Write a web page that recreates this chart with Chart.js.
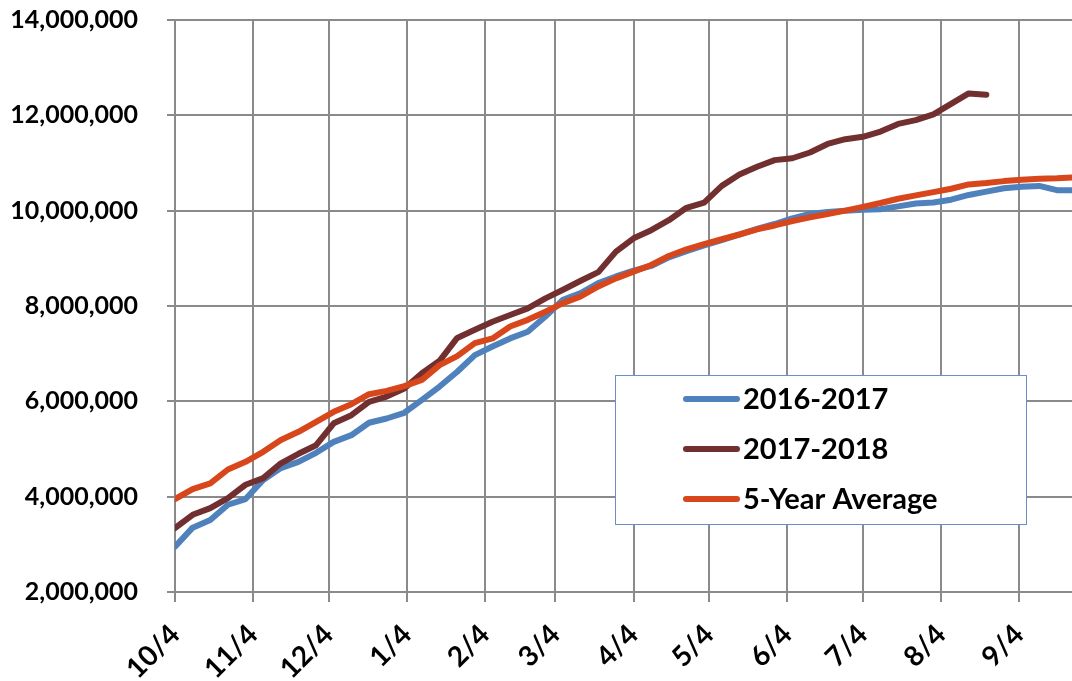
<!DOCTYPE html>
<html>
<head>
<meta charset="utf-8">
<script src="https://cdn.jsdelivr.net/npm/chart.js@4.4.0/dist/chart.umd.min.js"></script>
<style>
  html, body { margin: 0; padding: 0; background: #fff; }
  #wrap { width: 1072px; height: 681px; }
</style>
</head>
<body>
<div id="wrap"><canvas id="chart" width="1072" height="681"></canvas></div>
<script>
// days since 10/4 for each weekly reading
const weekDays = [0, 7, 14, 21, 28, 35, 42, 49, 56, 63, 70, 77, 84, 91, 98, 105, 112, 119, 126, 133,
  140, 147, 154, 161, 168, 175, 182, 189, 196, 203, 210, 217, 224, 231, 238, 245, 252, 259, 266, 273,
  280, 287, 294, 301, 308, 315, 322, 329, 336, 343, 350, 357];

// month ticks on the x axis
const monthDays = [0, 31, 61, 92, 123, 151, 182, 212, 243, 273, 304, 335];
const monthLabels = ['10/4', '11/4', '12/4', '1/4', '2/4', '3/4', '4/4', '5/4', '6/4', '7/4', '8/4', '9/4'];

// values in millions
const season1617 = [2.95, 3.35, 3.51, 3.83, 3.95, 4.35, 4.60, 4.73, 4.92, 5.15, 5.29, 5.55, 5.64, 5.76,
  6.03, 6.31, 6.62, 6.97, 7.15, 7.32, 7.46, 7.78, 8.13, 8.27, 8.48, 8.62, 8.74, 8.84, 9.02, 9.15,
  9.27, 9.38, 9.50, 9.62, 9.72, 9.84, 9.93, 9.97, 10.00, 10.02, 10.03, 10.09, 10.15, 10.17, 10.23,
  10.33, 10.40, 10.47, 10.50, 10.52, 10.43, 10.43];
const season1718 = [3.34, 3.62, 3.76, 3.97, 4.25, 4.39, 4.70, 4.90, 5.08, 5.54, 5.71, 5.99, 6.10, 6.27,
  6.59, 6.85, 7.33, 7.50, 7.67, 7.81, 7.95, 8.16, 8.34, 8.53, 8.71, 9.14, 9.42, 9.59, 9.80, 10.06,
  10.17, 10.52, 10.76, 10.92, 11.06, 11.10, 11.22, 11.40, 11.50, 11.55, 11.66, 11.82, 11.90, 12.02,
  12.24, 12.46, 12.43];
const fiveYearAvg = [3.95, 4.16, 4.28, 4.57, 4.73, 4.94, 5.19, 5.36, 5.57, 5.78, 5.94, 6.15, 6.22, 6.32,
  6.45, 6.76, 6.95, 7.22, 7.32, 7.57, 7.71, 7.88, 8.06, 8.20, 8.41, 8.58, 8.72, 8.86, 9.05, 9.19,
  9.30, 9.40, 9.50, 9.61, 9.69, 9.78, 9.86, 9.93, 10.00, 10.08, 10.16, 10.25, 10.32, 10.39, 10.46,
  10.55, 10.58, 10.62, 10.65, 10.67, 10.68, 10.70];

const yTicks = [2000000, 4000000, 6000000, 8000000, 10000000, 12000000, 14000000];

const gridColor = '#8a8a8a';
const fontFamily = 'Lato, "Open Sans", sans-serif';

const toPoints = (vals) => vals.map((v, i) => ({ x: weekDays[i], y: v * 1000000 }));

// legend drawn as a box inside the plot, like the original
const boxLegend = {
  id: 'boxLegend',
  afterDraw(chart) {
    const ctx = chart.ctx;
    ctx.save();
    ctx.fillStyle = '#fff';
    ctx.fillRect(615, 375, 412, 150);
    ctx.strokeStyle = '#6a8fc8';
    ctx.lineWidth = 1;
    ctx.strokeRect(615.5, 375.5, 411, 149);
    ctx.font = 'bold 29px ' + fontFamily;
    ctx.textBaseline = 'middle';
    ctx.textAlign = 'left';
    chart.data.datasets.forEach((ds, i) => {
      const y = 399 + i * 50;
      ctx.strokeStyle = ds.borderColor;
      ctx.lineWidth = 6;
      ctx.lineCap = 'round';
      ctx.beginPath();
      ctx.moveTo(686, y);
      ctx.lineTo(737, y);
      ctx.stroke();
      ctx.fillStyle = '#000';
      ctx.fillText(ds.label, 743, y + 1);
    });
    ctx.restore();
  }
};

const lineStyle = { borderWidth: 6, pointRadius: 0, tension: 0, borderJoinStyle: 'round', borderCapStyle: 'round', fill: false };

new Chart(document.getElementById('chart'), {
  type: 'line',
  data: {
    datasets: [
      { label: '2016-2017', data: toPoints(season1617), borderColor: '#4f81bd', order: 3, ...lineStyle },
      { label: '2017-2018', data: toPoints(season1718), borderColor: '#722f2f', order: 2, ...lineStyle },
      { label: '5-Year Average', data: toPoints(fiveYearAvg), borderColor: '#d8461b', order: 1, ...lineStyle }
    ]
  },
  options: {
    responsive: false,
    animation: false,
    layout: { padding: { top: 20, right: 0, bottom: 0, left: 0 } },
    plugins: { legend: { display: false }, tooltip: { enabled: false } },
    scales: {
      x: {
        type: 'linear',
        min: 0,
        max: 356,
        afterBuildTicks: (s) => { s.ticks = monthDays.map(v => ({ value: v })); },
        afterFit: (s) => { s.height = 89; },
        grid: { color: gridColor, lineWidth: 2, tickLength: 10 },
        border: { color: gridColor, width: 2 },
        ticks: {
          autoSkip: false,
          minRotation: 45,
          maxRotation: 45,
          padding: 16,
          color: '#000',
          font: { family: fontFamily, size: 28, weight: 'bold' },
          callback: (v) => monthLabels[monthDays.indexOf(v)]
        }
      },
      y: {
        min: 2000000,
        max: 14000000,
        afterBuildTicks: (s) => { s.ticks = yTicks.map(v => ({ value: v })); },
        afterFit: (s) => { s.width = 175; s.paddingTop = 14; s.paddingBottom = 14; },
        grid: { color: gridColor, lineWidth: 2, tickLength: 8 },
        border: { color: gridColor, width: 2 },
        ticks: {
          padding: 29,
          color: '#000',
          font: { family: fontFamily, size: 25, weight: 'bold' },
          callback: (v) => v.toLocaleString('en-US')
        }
      }
    }
  },
  plugins: [boxLegend]
});
</script>
</body>
</html>
